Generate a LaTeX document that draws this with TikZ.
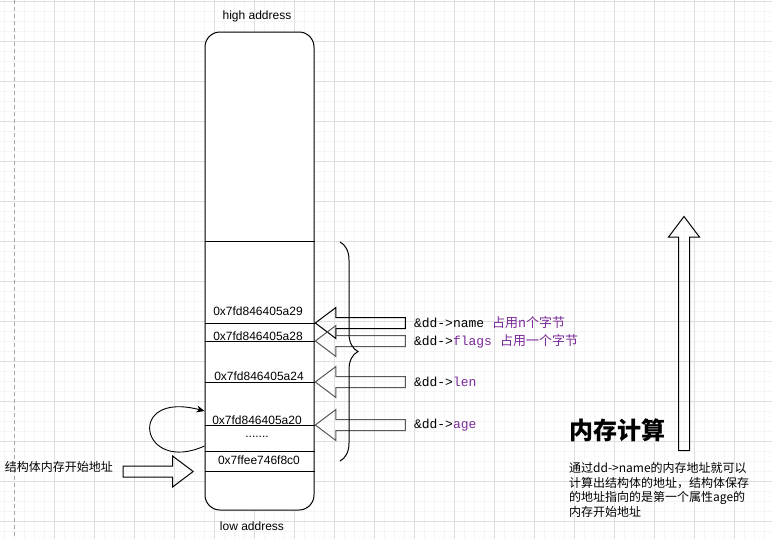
\documentclass[tikz,border=0pt]{standalone}
\usepackage{fontspec}
\setmainfont{Liberation Sans}
\setmonofont{Liberation Mono}
\newfontfamily\cjk{Noto Sans CJK SC}
\usetikzlibrary{positioning,shapes.arrows,arrows.meta,decorations.pathreplacing}
\definecolor{fieldpurple}{HTML}{7B2A9B}
\tikzset{gridminor/.style={line width=0.5pt,black!4},
  gridmajor/.style={line width=0.8pt,black!13},
  pagebreak/.style={line width=0.8pt,black!35,dash pattern=on 4pt off 3pt},
  addr/.style={font=\fontsize{12}{14}\selectfont,inner sep=0pt},
  ptr/.style={font=\fontsize{13}{15}\selectfont,inner sep=0pt},
  blockarrow/.style={single arrow,draw,line width=1pt,inner sep=5pt,
    single arrow head extend=10pt,single arrow tip angle=74,minimum height=90pt}}

\begin{document}
\begin{tikzpicture}[x=1pt,y=-1pt]
                \useasboundingbox (0,0) rectangle (772,539);
                \fill[white] (0,0) rectangle (772,539);
                \foreach \gx in {4,14,...,774} \draw[gridminor] (\gx,0) -- (\gx,539);
                \foreach \gy in {1.5,11.5,...,541.5} \draw[gridminor] (0,\gy) -- (772,\gy);
                \foreach \gx in {54,94,...,774} \draw[gridmajor] (\gx,0) -- (\gx,539);
                \foreach \gy in {1.5,41.5,...,541.5} \draw[gridmajor] (0,\gy) -- (772,\gy);
                \draw[pagebreak] (14,0) -- (14,539);

                \node[draw,fill=white,line width=1pt,rounded corners=15pt,
                    minimum width=109pt,minimum height=478pt] (mem) at (259.5,271) {};
                \foreach \sy in {241,323,341,382,425,451,471}
                    \draw[line width=1pt] (mem.west |- 0,\sy) -- (mem.east |- 0,\sy);

                \node[addr] (high) at (257,16) {high address};
                \node[addr] (low) at (252,526) {low address};
                \node[addr] (a29) at (258,311) {0x7fd846405a29};
                \node[addr] (a28) at (258,336) {0x7fd846405a28};
                \node[addr] (a24) at (259,376) {0x7fd846405a24};
                \node[addr] (a20) at (257,420) {0x7fd846405a20};
                \node[addr] (gap) at (257,437) {.......};
                \node[addr] (base) at (259,460) {0x7ffee746f8c0};

                \node[blockarrow,rotate=180,anchor=tip] (pname) at (mem.east |- 0,323) {};
                \node[blockarrow,rotate=180,anchor=tip,draw=black!65] (pflags) at (mem.east |- 0,341) {};
                \node[blockarrow,rotate=180,anchor=tip,draw=black!65] (plen) at (mem.east |- 0,382) {};
                \node[blockarrow,rotate=180,anchor=tip,draw=black!65] (page) at (mem.east |- 0,425) {};

                \node[ptr,right=8pt of pname.tail] (lname)
                    {\ttfamily\&dd->name\hspace{8pt}\color{fieldpurple}\cjk 占用n个字节};
                \node[ptr,right=8pt of pflags.tail] (lflags)
                    {\ttfamily\&dd->\color{fieldpurple}flags\hspace{8pt}\cjk 占用一个字节};
                \node[ptr,right=8pt of plen.tail] (llen) {\ttfamily\&dd->\color{fieldpurple}len};
                \node[ptr,right=8pt of page.tail] (lage) {\ttfamily\&dd->\color{fieldpurple}age};

                \draw[line width=1pt,decorate,decoration={brace,amplitude=18pt}] (340,242) -- (340,461);

                \node[blockarrow,anchor=tip,minimum height=70pt] (start) at (194,471.5) {};
                \node[font=\cjk\fontsize{12}{14}\selectfont,inner sep=0pt,anchor=east] (startlbl)
                    at (113,467) {结构体内存开始地址};

                \coordinate (loopout) at (mem.west |- 0,446);
                \coordinate (loopin) at (mem.west |- 0,411);
                \draw[line width=0.9pt,-{Stealth[length=8pt,width=7pt]}]
                    (loopout) .. controls (140,475) and (125,390) .. (loopin);

                \node[blockarrow,rotate=90,anchor=tail,minimum height=234pt] (calc) at (684,451) {};
                \node[font=\cjk\bfseries\fontsize{24}{28}\selectfont,inner sep=0pt] (title)
                    at (617.5,430) {内存计算};
                \node[font=\cjk\fontsize{12}{14.7}\selectfont,inner sep=0pt,align=left,anchor=north west]
                    (note) at (569,462) {通过dd->name的内存地址就可以\\计算出结构体的地址，结构体保存\\的地址指向的是第一个属性age的\\内存开始地址};
            \end{tikzpicture}
\end{document}
